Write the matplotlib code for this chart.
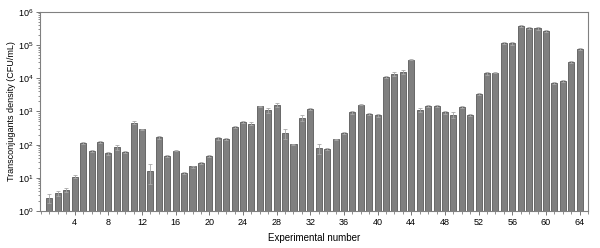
import numpy as np
import matplotlib
matplotlib.use("Agg")
import matplotlib.pyplot as plt
from matplotlib.ticker import LogLocator, NullFormatter, MultipleLocator

plt.rcParams['font.family'] = ['Liberation Sans', 'DejaVu Sans']

experiments = np.arange(1, 65)
density = [2.5, 3.4, 4.3, 10.8, 115, 66, 118, 55, 85, 60,
           460, 290, 16.4, 166, 46, 66, 14.3, 22, 28.5, 44.6,
           155, 148, 347, 470, 430, 1430, 1100, 1600, 225, 102,
           650, 1190, 79, 74, 145, 220, 950, 1600, 840, 770,
           11000, 13500, 15800, 36500, 1130, 1470, 1450, 950, 800, 1370,
           800, 3380, 14200, 14800, 114000, 114000, 380000, 337000, 322000, 270000,
           7400, 8500, 31000, 78000]
errors = [0.8, 0.5, 0.6, 1.0, 8, 4, 8, 5, 15, 3,
          40, 15, 10, 15, 4, 3, 1.2, 1.5, 2, 3,
          15, 8, 20, 30, 50, 80, 200, 200, 75, 6,
          120, 80, 25, 4, 8, 15, 120, 80, 80, 90,
          800, 2000, 2000, 2000, 150, 80, 80, 100, 150, 80,
          50, 300, 1500, 800, 8000, 10000, 20000, 25000, 30000, 15000,
          500, 600, 1500, 6000]
xticks = np.arange(4, 65, 4)

fig = plt.figure(figsize=(6.0, 2.48), dpi=100)
ax = fig.add_axes([0.067, 0.149, 0.913, 0.803])

ax.bar(experiments, density, width=0.72, color='#7f7f7f', edgecolor='#5a5a5a',
       linewidth=0.6, yerr=errors,
       error_kw=dict(ecolor='#a8a8a8', elinewidth=0.6, capsize=1.5, capthick=0.6))

ax.set_yscale('log')
ax.set_ylim(1, 1e6)
ax.set_xlim(-0.1, 65)
ax.yaxis.set_major_locator(LogLocator(base=10, numticks=10))
ax.yaxis.set_minor_locator(LogLocator(base=10, subs=np.arange(2, 10), numticks=20))
ax.yaxis.set_minor_formatter(NullFormatter())
ax.set_xticks(xticks)
ax.xaxis.set_minor_locator(MultipleLocator(1))

for side in ['top', 'right', 'left', 'bottom']:
    ax.spines[side].set_color('#808080')
    ax.spines[side].set_linewidth(0.8)
ax.tick_params(axis='both', which='major', labelsize=6.5, length=3, width=0.6,
               color='#606060', direction='out', pad=2)
ax.tick_params(axis='both', which='minor', length=1.8, width=0.5, color='#606060')
ax.tick_params(top=False, right=False, which='both')

ax.set_xlabel('Experimental number', fontsize=7, labelpad=4)
ax.set_ylabel('Transconjugants density (CFU/mL)', fontsize=6.5, labelpad=1)

fig.savefig('out.png', dpi=100)
